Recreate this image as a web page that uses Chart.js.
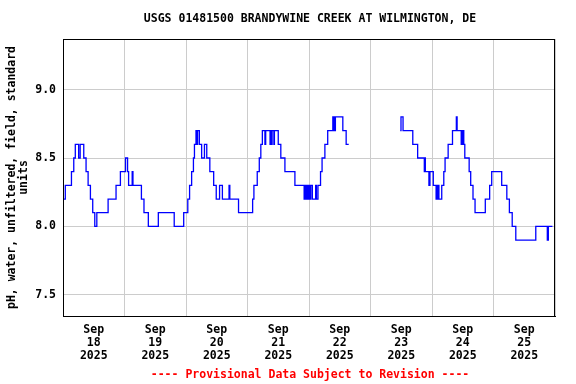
<!DOCTYPE html>
<html>
<head>
<meta charset="utf-8">
<script src="https://cdn.jsdelivr.net/npm/chart.js@4.4.0/dist/chart.umd.min.js"></script>
<style>
  html, body { margin: 0; padding: 0; background: #fff; }
</style>
</head>
<body>
<canvas id="phChart" width="576" height="384"></canvas>
<script>
// hours since Sep 18 2025 00:00, and the pH value that starts at that hour
const hours = [
  0.3, 0.9, 3.3, 4.2, 4.8, 6.1, 6.7, 8.1, 9.0, 9.8, 10.7, 11.6, 12.4, 13.2,
  17.6, 20.7, 22.4, 24.4, 25.2, 25.6, 27.0, 27.3, 30.6, 31.6, 33.3, 37.2,
  43.4, 47.1, 48.7, 49.4, 50.2, 50.9, 51.3, 51.9, 52.3, 52.5, 53.2, 54.1,
  55.2, 56.1, 57.3, 58.8, 59.8, 61.1, 62.2, 64.8, 65.1, 68.5, 74.0, 74.5,
  75.8, 76.6, 77.2, 77.8, 78.8, 79.1, 80.8, 81.0, 81.3, 81.6, 82.3, 82.5,
  84.0, 85.0, 86.6, 90.5, 94.1, 94.5, 94.8, 95.2, 95.5, 95.9, 96.2, 96.7,
  97.3, 98.6, 98.9, 99.5, 100.5, 101.1, 102.2, 103.3, 105.3, 105.6, 105.9,
  106.1, 106.3, 109.2, 110.5, 111.5,
  120.0,
  131.6, 131.9, 132.7, 136.5, 138.4, 141.0, 141.2, 141.4, 142.8, 143.2,
  144.5, 145.6, 146.0, 146.2, 146.5, 146.7, 147.8, 148.6, 149.1, 150.3,
  152.0, 153.5, 153.8, 155.4, 155.6, 155.9, 156.1, 156.4, 156.8, 158.5,
  159.1, 160.0, 160.8, 164.8, 166.5, 167.3, 171.2, 173.2, 174.2, 175.3,
  176.7, 184.5, 189.0, 189.4, 191.0
];
const ph = [
  8.2, 8.3, 8.4, 8.5, 8.6, 8.5, 8.6, 8.5, 8.4, 8.3, 8.2, 8.1, 8.0, 8.1,
  8.2, 8.3, 8.4, 8.5, 8.4, 8.3, 8.4, 8.3, 8.2, 8.1, 8.0, 8.1,
  8.0, 8.1, 8.2, 8.3, 8.4, 8.5, 8.6, 8.7, 8.6, 8.7, 8.6, 8.5,
  8.6, 8.5, 8.4, 8.3, 8.2, 8.3, 8.2, 8.3, 8.2, 8.1, 8.2, 8.3,
  8.4, 8.5, 8.6, 8.7, 8.6, 8.7, 8.6, 8.7, 8.6, 8.7, 8.6, 8.7,
  8.6, 8.5, 8.4, 8.3, 8.2, 8.3, 8.2, 8.3, 8.2, 8.3, 8.2, 8.3,
  8.2, 8.3, 8.2, 8.3, 8.4, 8.5, 8.6, 8.7, 8.8, 8.7, 8.8,
  8.7, 8.8, 8.7, 8.6, 8.6,
  null,
  8.7, 8.8, 8.7, 8.6, 8.5, 8.4, 8.5, 8.4, 8.3, 8.4,
  8.3, 8.2, 8.3, 8.2, 8.3, 8.2, 8.3, 8.4, 8.5, 8.6,
  8.7, 8.8, 8.7, 8.6, 8.7, 8.6, 8.7, 8.6, 8.5, 8.4,
  8.3, 8.2, 8.1, 8.2, 8.3, 8.4, 8.3, 8.2, 8.1, 8.0,
  7.9, 8.0, 7.9, 8.0, 8.0
];
const dayLabels = ["18", "19", "20", "21", "22", "23", "24", "25"];
const yTicks = [7.5, 8.0, 8.5, 9.0];

const FONT = '"DejaVu Sans Mono", "Liberation Mono", monospace';
const points = hours.map((h, i) => ({ x: h, y: ph[i] }));

const textPlugin = {
  id: 'usgsText',
  afterDraw(chart) {
    const c = chart.ctx;
    const a = chart.chartArea;
    c.save();
    // frame round the plot
    c.strokeStyle = '#000';
    c.lineWidth = 1;
    c.strokeRect(Math.round(a.left) + 0.5, Math.round(a.top) + 0.5,
      Math.round(a.right - a.left) - 1, Math.round(a.bottom - a.top));
    c.font = 'bold 11.5px ' + FONT;
    c.textAlign = 'center';
    c.textBaseline = 'middle';
    c.fillStyle = '#000';
    c.fillText('USGS 01481500 BRANDYWINE CREEK AT WILMINGTON, DE', 310, 19);
    c.fillStyle = '#ff0000';
    c.fillText('---- Provisional Data Subject to Revision ----', 310, 375);
    // y axis title, two lines
    c.fillStyle = '#000';
    c.translate(0, (a.top + a.bottom) / 2);
    c.rotate(-Math.PI / 2);
    c.fillText('pH, water, unfiltered, field, standard', 0, 12);
    c.fillText('units', 0, 24);
    c.restore();
  }
};

const ctx = document.getElementById("phChart").getContext("2d");
new Chart(ctx, {
  type: 'line',
  data: {
    datasets: [{
      data: points,
      borderColor: '#0000ff',
      borderWidth: 1.3,
      pointRadius: 0,
      stepped: 'before',
      spanGaps: false,
      fill: false
    }]
  },
  options: {
    responsive: false,
    animation: false,
    layout: { padding: { left: 0, top: 39, right: 21, bottom: 0 } },
    plugins: {
      legend: { display: false },
      tooltip: { enabled: false }
    },
    scales: {
      x: {
        type: 'linear',
        min: 0,
        max: 192,
        afterFit: s => { s.height = 68; },
        afterBuildTicks: s => {
          const t = [];
          for (let v = 0; v <= 192; v += 12) t.push({ value: v });
          s.ticks = t;
        },
        grid: {
          drawTicks: false,
          color: c => (c.tick && c.tick.value % 24 === 0) ? '#cccccc' : 'rgba(0,0,0,0)'
        },
        border: { color: '#000' },
        ticks: {
          autoSkip: false,
          maxRotation: 0,
          padding: 8,
          color: '#000',
          font: { family: FONT, size: 11.5, weight: 'bold', lineHeight: 1.1 },
          callback: v => {
            if (v % 24 !== 12) return '';
            return ['Sep', dayLabels[Math.floor(v / 24)], '2025'];
          }
        }
      },
      y: {
        min: 7.345,
        max: 9.37,
        afterFit: s => { s.width = 63; },
        afterBuildTicks: s => { s.ticks = yTicks.map(v => ({ value: v })); },
        grid: { drawTicks: false, color: '#cccccc' },
        border: { color: '#000' },
        ticks: {
          padding: 7,
          color: '#000',
          font: { family: FONT, size: 11.5, weight: 'bold' },
          callback: v => v.toFixed(1)
        }
      }
    }
  },
  plugins: [textPlugin]
});
</script>
</body>
</html>
